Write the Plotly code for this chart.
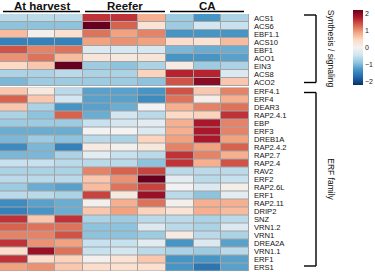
import plotly.graph_objects as go

W, H = 375, 272

conditions = ["H1", "H2", "H3", "R1", "R2", "R3", "C1", "C2", "C3"]
group_labels = ["At harvest", "Reefer", "CA"]

syn_genes = ["ACS1", "ACS6", "EBF1.1", "ACS10", "EBF1", "ACO1", "EIN3", "ACS8", "ACO2"]
syn_values = [
    [-0.6, -0.6, -0.6, 1.6, 1.6, 0.8, -0.8, -1.3, -0.7],
    [-0.9, -0.9, -0.9, 2.2, 1.3, 0.3, -0.8, -0.4, -0.5],
    [0.7, 0.05, 0.35, 1.2, 0.9, 1.1, -1.3, -1.3, -1.3],
    [-1.5, -1.5, -1.5, 0.9, 1.0, 0.9, 0.4, 0.3, 0.7],
    [1.4, 1.1, 1.2, -0.3, -0.35, -0.35, -1.0, -1.1, -1.1],
    [1.0, 1.2, 0.7, 0.25, 0.2, 0.25, -1.3, -1.3, -1.2],
    [0.45, 0.6, 2.3, -0.8, -0.9, -0.7, 0.15, -0.8, -0.7],
    [-0.7, -0.7, -0.6, -0.7, -0.7, 0.5, 1.7, 1.7, -0.3],
    [-1.0, -0.8, -0.8, -0.8, -0.8, -0.9, 1.4, 2.0, 0.6],
]

erf_genes = ["ERF4.1", "ERF4", "DEAR3", "RAP2.4.1", "EBP", "ERF3", "DREB1A", "RAP2.4.2",
             "RAP2.7", "RAP2.4", "RAV2", "ERF2", "RAP2.6L", "ERF1", "RAP2.11", "DRIP2",
             "SNZ", "VRN1.2", "VRN1", "DREA2A", "VRN1.1", "ERF1", "ERS1"]
erf_values = [
    [0.6, 0.2, -0.6, -1.2, -1.2, -1.3, 1.4, 0.6, 1.1],
    [1.3, 0.6, -0.4, -1.2, -1.2, -1.4, 1.2, 0.1, 0.8],
    [0.6, -0.7, -1.3, -1.2, -1.1, 0.0, 0.8, 1.1, 1.2],
    [-0.7, -0.9, 1.3, -1.1, -0.4, -0.6, 0.45, 0.5, 1.6],
    [-0.8, -0.8, -0.8, -0.5, -0.4, -0.2, 0.8, 1.8, 1.1],
    [-1.1, -1.1, -1.1, 0.0, 0.0, -0.3, 0.8, 1.8, 1.1],
    [-1.0, -0.8, -0.9, -0.6, -0.7, 0.5, 0.9, 1.8, 0.9],
    [-1.4, -1.0, -1.5, 0.15, 0.05, 0.2, 1.1, 0.9, 1.3],
    [-1.0, -1.0, -0.7, -0.2, -0.5, -0.6, 1.6, 1.1, 0.8],
    [-0.5, -0.5, -0.6, -0.6, -0.6, -0.9, 1.6, 0.8, 1.4],
    [-0.7, -0.7, -0.7, 1.1, 1.3, 1.5, -0.6, -0.6, -0.6],
    [-0.6, -0.6, -0.6, 0.6, 1.0, 2.3, -0.2, -0.6, -0.5],
    [-0.8, -1.1, -1.2, 0.7, 1.2, 1.5, 0.0, -0.3, 0.1],
    [-0.6, -0.6, -0.7, 1.5, 0.2, 1.9, -0.6, -0.9, -0.2],
    [-1.4, -1.2, -1.1, 0.05, 0.8, 1.2, 0.05, 0.8, 0.8],
    [-1.5, -1.3, -1.1, 0.6, 0.9, 0.5, 0.3, 0.8, 0.7],
    [1.6, 0.6, 1.6, -0.7, -0.8, -0.6, -0.6, -0.7, -0.6],
    [1.3, 1.2, 1.2, -0.9, -0.9, -0.3, -0.6, -0.7, -0.3],
    [1.1, 1.1, 1.4, -0.9, -0.9, -0.8, 0.15, -0.6, -0.7],
    [1.6, 1.0, 0.9, -0.5, -0.5, -0.2, -1.3, -0.3, -1.2],
    [0.4, 1.9, 1.2, -0.5, -0.4, -0.6, -0.7, -0.8, -0.6],
    [1.6, 0.4, 0.5, 0.05, 0.3, 0.6, -1.3, -1.3, -1.2],
    [0.9, 1.0, 0.6, 0.4, 0.35, 0.35, -1.3, -1.6, -1.2],
]

colorbar_ticks = [-2, -1, 0, 1, 2]

rdbu = ["#053061", "#2166ac", "#4393c3", "#92c5de", "#d1e5f0", "#f2f2f2",
        "#fddbc7", "#f4a582", "#d6604d", "#b2182b", "#67001f"]
colorscale = [[i / (len(rdbu) - 1), c] for i, c in enumerate(rdbu)]


def px(x):
    return x / W


def py(y):
    return 1 - y / H


FONT = "Liberation Sans, Arial, sans-serif"
LABEL_SIZE = 7.6

fig = go.Figure()
fig.add_trace(go.Heatmap(z=syn_values, x=list(range(len(conditions))),
                         y=list(range(len(syn_genes))), coloraxis="coloraxis",
                         xgap=1, ygap=1, xaxis="x", yaxis="y", hoverinfo="skip"))
fig.add_trace(go.Heatmap(z=erf_values, x=list(range(len(conditions))),
                         y=list(range(len(erf_genes))), coloraxis="coloraxis",
                         xgap=1, ygap=1, xaxis="x2", yaxis="y2", hoverinfo="skip"))

x_dom = [0, px(249)]
axis_common = dict(showgrid=False, zeroline=False, showline=False, ticks="")
fig.update_layout(
    width=W, height=H,
    margin=dict(l=0, r=0, t=0, b=0),
    paper_bgcolor="white",
    plot_bgcolor="#a4a4a4",
    font=dict(family=FONT, color="#111"),
    xaxis=dict(domain=x_dom, anchor="y", showticklabels=False, **axis_common),
    xaxis2=dict(domain=x_dom, anchor="y2", showticklabels=False, **axis_common),
    yaxis=dict(domain=[py(86), py(14)], anchor="x", side="right", autorange="reversed",
               tickvals=list(range(len(syn_genes))), ticktext=syn_genes,
               ticklabelstandoff=4,
               tickfont=dict(size=LABEL_SIZE, family=FONT, color="#111"), **axis_common),
    yaxis2=dict(domain=[py(271), py(87.5)], anchor="x2", side="right", autorange="reversed",
                tickvals=list(range(len(erf_genes))), ticktext=erf_genes,
                ticklabelstandoff=4,
                tickfont=dict(size=LABEL_SIZE, family=FONT, color="#111"), **axis_common),
    coloraxis=dict(
        colorscale=colorscale, cmin=-2.2, cmax=2.2,
        colorbar=dict(x=px(353), xanchor="left", y=py(10), yanchor="top",
                      len=75 / H, lenmode="fraction", thickness=10, thicknessmode="pixels",
                      outlinewidth=0, tickvals=colorbar_ticks, ticks="",
                      tickfont=dict(size=7, family=FONT, color="#222"), xpad=0, ypad=0),
    ),
)

# column group headers and underlines
header_spans = [(3, 80), (85, 165), (170, 244)]
for label, (a, b) in zip(group_labels, header_spans):
    fig.add_annotation(x=px((a + b) / 2), y=py(5.5), xref="paper", yref="paper",
                       text=f"<b>{label}</b>", showarrow=False,
                       font=dict(size=11.5, family=FONT, color="#111"),
                       xanchor="center", yanchor="middle")
    fig.add_shape(type="line", xref="paper", yref="paper",
                  x0=px(a), x1=px(b), y0=py(11.5), y1=py(11.5),
                  line=dict(color="black", width=1.6))

# brackets
brackets = [(15, 82.5, "Synthesis / signaling"), (92.5, 266, "ERF family")]
for top, bot, text in brackets:
    for yy in (top, bot):
        fig.add_shape(type="line", xref="paper", yref="paper",
                      x0=px(304), x1=px(316), y0=py(yy), y1=py(yy),
                      line=dict(color="black", width=1.4))
    fig.add_shape(type="line", xref="paper", yref="paper",
                  x0=px(316), x1=px(316), y0=py(top), y1=py(bot),
                  line=dict(color="black", width=1.4))
    fig.add_annotation(x=px(331), y=py((top + bot) / 2), xref="paper", yref="paper",
                       text=text, textangle=90, showarrow=False,
                       font=dict(size=8.5, family=FONT, color="#111"),
                       xanchor="center", yanchor="middle")

fig.write_html("out.html")
